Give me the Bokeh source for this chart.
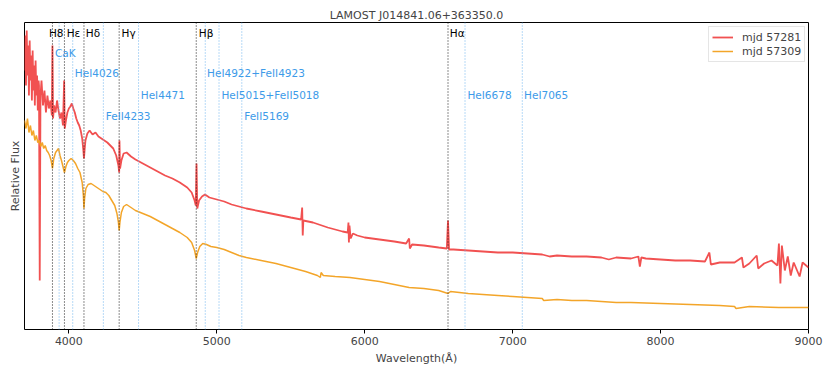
from bokeh.plotting import figure
from bokeh.models import Range1d, Span, Label, Legend, LegendItem, FixedTicker
from bokeh.embed import file_html
from bokeh.resources import INLINE

TITLE = "LAMOST J014841.06+363350.0"

# ---- spectrum mjd 57281 (arbitrary relative flux units) ----
wl_a = [3700, 3705, 3710, 3715, 3720, 3725, 3730, 3735, 3740, 3745, 3750, 3755, 3760, 3765, 3770,
        3775, 3780, 3785, 3790, 3795, 3798, 3803, 3808, 3815, 3825, 3835, 3845, 3855, 3865, 3875,
        3885, 3889, 3893, 3900, 3910, 3920, 3930, 3940, 3950, 3960, 3968, 3972, 3980, 3990, 4000,
        4010, 4020, 4030, 4040, 4050, 4060, 4070, 4080, 4090, 4098, 4102, 4106, 4112, 4125, 4140,
        4160, 4180, 4200, 4220, 4240, 4260, 4280, 4300, 4320, 4335, 4340, 4342, 4346, 4355, 4370,
        4390, 4420, 4450, 4500, 4550, 4600, 4650, 4700, 4750, 4800, 4830, 4850, 4858, 4863, 4868,
        4880, 4900, 4920, 4950, 5000, 5050, 5100, 5150, 5200, 5300, 5400, 5500, 5570, 5577, 5581,
        5585, 5650, 5750, 5850, 5885, 5890, 5893, 5897, 5905, 5920, 5950, 6000, 6100, 6200, 6280,
        6300, 6305, 6320, 6400, 6500, 6555, 6563, 6570, 6600, 6700, 6800, 6900, 7000, 7100, 7200,
        7250, 7300, 7400, 7500, 7600, 7650, 7700, 7800, 7850, 7860, 7870, 7900, 8000, 8100, 8200,
        8300, 8330, 8340, 8400, 8500, 8550, 8560, 8600, 8650, 8660, 8700, 8750, 8790, 8800, 8810,
        8820, 8840, 8860, 8880, 8900, 8940, 8960, 9000]
flux_a = [259, 294, 244, 299, 254, 284, 234, 289, 249, 274, 229, 279, 239, 264, 224,
          269, 234, 254, 219, 249, 244, 49, 234, 249, 224, 239, 217, 234, 221, 229,
          214, 284, 211, 224, 217, 229, 219, 211, 217, 204, 249, 201, 209, 217, 221,
          223, 226, 221, 217, 211, 207, 204, 199, 191, 179, 171, 179, 189, 196, 199,
          195, 197, 193, 191, 189, 187, 184, 181, 174, 164, 157, 189, 161, 169, 176,
          177, 173, 170, 166, 162, 158, 154, 151, 147, 142, 137, 129, 124, 166, 121,
          129, 133, 135, 132, 130, 128, 125, 123, 121, 118, 115, 112, 110, 122, 94,
          109, 107, 102, 98, 97, 107, 87, 104, 91, 96, 94, 92, 90, 88, 86,
          91, 81, 85, 84, 82, 81, 109, 80, 80, 79, 78, 77, 77, 76, 75,
          73, 74, 73, 73, 72, 70, 72, 71, 73, 63, 72, 71, 70, 69, 69,
          68, 77, 65, 67, 67, 72, 62, 66, 74, 61, 66, 69, 64, 86, 46,
          84, 59, 73, 54, 67, 53, 67, 62]

# ---- spectrum mjd 57309 ----
wl_b = [3700, 3710, 3720, 3730, 3740, 3750, 3760, 3770, 3780, 3790, 3800, 3810, 3820, 3830, 3840,
        3850, 3860, 3870, 3880, 3889, 3898, 3910, 3920, 3930, 3940, 3950, 3960, 3970, 3980, 3990,
        4000, 4015, 4030, 4045, 4060, 4075, 4090, 4098, 4102, 4106, 4115, 4130, 4150, 4170, 4190,
        4210, 4230, 4250, 4270, 4290, 4310, 4325, 4335, 4340, 4345, 4355, 4370, 4390, 4420, 4450,
        4500, 4550, 4600, 4650, 4700, 4750, 4800, 4830, 4850, 4861, 4870, 4885, 4905, 4930, 4960,
        5000, 5050, 5100, 5150, 5200, 5300, 5400, 5500, 5600, 5680, 5700, 5705, 5720, 5800, 5900,
        6000, 6100, 6200, 6300, 6400, 6500, 6563, 6580, 6700, 6800, 6900, 7000, 7100, 7200, 7210,
        7300, 7400, 7500, 7600, 7700, 7800, 8000, 8200, 8400, 8500, 8510, 8600, 8800, 9000]
flux_b = [209, 201, 211, 197, 204, 194, 199, 189, 194, 187, 189, 183, 187, 181, 184,
          179, 177, 174, 169, 161, 171, 177, 179, 181, 174, 169, 163, 157, 163, 167,
          169, 171, 169, 166, 161, 157, 147, 134, 121, 131, 141, 145, 146, 144, 142,
          140, 138, 137, 134, 129, 124, 116, 107, 99, 107, 117, 123, 125, 122, 119,
          116, 113, 109, 105, 101, 97, 92, 87, 79, 71, 77, 83, 86, 85, 83,
          82, 80, 77, 74, 72, 69, 66, 62, 58, 54, 52, 57, 54, 53, 52,
          50, 48, 45, 42, 41, 39, 36, 38, 36, 35, 34, 33, 32, 31, 29,
          30, 29, 29, 28, 27, 27, 26, 25, 24, 23, 21, 23, 22, 22]

# ---- line identifications ----
balmer_names = ["H8", "Hε", "Hδ", "Hγ", "Hβ", "Hα"]
balmer_wl = [3889, 3970, 4102, 4340, 4861, 6563]
other_names = ["CaK", "HeI4026", "FeII4233", "HeI4471", "HeI4922+FeII4923",
               "HeI5015+FeII5018", "FeII5169", "HeI6678", "HeI7065"]
other_wl = [3934, 4026, 4233, 4471, 4922, 5015, 5169, 6678, 7065]

# label placement (style): x shift in Angstrom and row height in flux units
balmer_dx = [-24, 15, 12, 16, 17, 12]
other_dx = [-28, 14, 16, 15, 12, 16, 16, 16, 12]
other_y = [277, 257, 214, 235, 257, 235, 214, 235, 235]
balmer_y = 297

RED = "#ee3333"
ORANGE = "#f2a01e"
BLUE_TXT = "#3d9be9"
BLUE_LINE = "#6fb4ee"
FONT = "DejaVu Sans"

p = figure(width=831, height=375, output_backend="svg", toolbar_location=None,
           x_range=Range1d(3700, 9000), y_range=Range1d(0, 307),
           min_border_left=24, min_border_right=23, min_border_top=22, min_border_bottom=46)
p.background_fill_color = "white"
p.border_fill_color = "white"
p.outline_line_color = "black"
p.outline_line_width = 1
p.grid.visible = False

p.title.text = TITLE
p.title.align = "center"
p.title.text_font = FONT
p.title.text_font_size = "11px"
p.title.text_font_style = "normal"
p.title.standoff = 2

xa = p.xaxis[0]
xa.ticker = FixedTicker(ticks=[4000, 5000, 6000, 7000, 8000, 9000])
xa.minor_tick_line_color = None
xa.major_tick_in = 0
xa.major_tick_out = 4
xa.major_label_standoff = 3
xa.major_label_text_font = FONT
xa.major_label_text_font_size = "11px"
xa.axis_label = "Wavelength(Å)"
xa.axis_label_text_font = FONT
xa.axis_label_text_font_size = "11px"
xa.axis_label_text_font_style = "normal"
xa.axis_label_standoff = 4
xa.axis_line_color = None

ya = p.yaxis[0]
ya.ticker = FixedTicker(ticks=[])
ya.minor_tick_line_color = None
ya.major_tick_out = 0
ya.major_tick_in = 0
ya.major_label_standoff = 0
ya.major_label_text_font_size = "0px"
ya.axis_label = "Relative Flux"
ya.axis_label_text_font = FONT
ya.axis_label_text_font_size = "11px"
ya.axis_label_text_font_style = "normal"
ya.axis_label_standoff = 3
ya.axis_line_color = None

for w in balmer_wl:
    p.add_layout(Span(location=w, dimension="height", line_color="black",
                      line_width=1, line_dash="1 2", line_alpha=0.9))
for w in other_wl:
    p.add_layout(Span(location=w, dimension="height", line_color=BLUE_LINE,
                      line_width=1, line_dash="1 2"))

ra = p.line(wl_a, flux_a, line_color=RED, line_width=1.8, line_alpha=0.85)
rb = p.line(wl_b, flux_b, line_color=ORANGE, line_width=1.5, line_alpha=0.95)

for name, w, dx in zip(balmer_names, balmer_wl, balmer_dx):
    p.add_layout(Label(x=w + dx, y=balmer_y, text=name, text_font=FONT,
                       text_font_size="10.5px", text_color="black",
                       text_baseline="middle", text_align="left"))
for name, w, dx, yy in zip(other_names, other_wl, other_dx, other_y):
    p.add_layout(Label(x=w + dx, y=yy, text=name, text_font=FONT,
                       text_font_size="10.5px", text_color=BLUE_TXT,
                       text_baseline="middle", text_align="left"))

legend = Legend(items=[LegendItem(label="mjd 57281", renderers=[ra]),
                       LegendItem(label="mjd 57309", renderers=[rb])],
                location=(684, 267), padding=3, spacing=0, margin=0,
                glyph_width=21, glyph_height=14, label_height=14,
                label_standoff=9, label_text_font=FONT, label_text_font_size="11px",
                border_line_color="#cccccc", border_line_width=1,
                background_fill_alpha=0.9)
p.add_layout(legend)

open("out.html", "w").write(file_html(p, INLINE))
